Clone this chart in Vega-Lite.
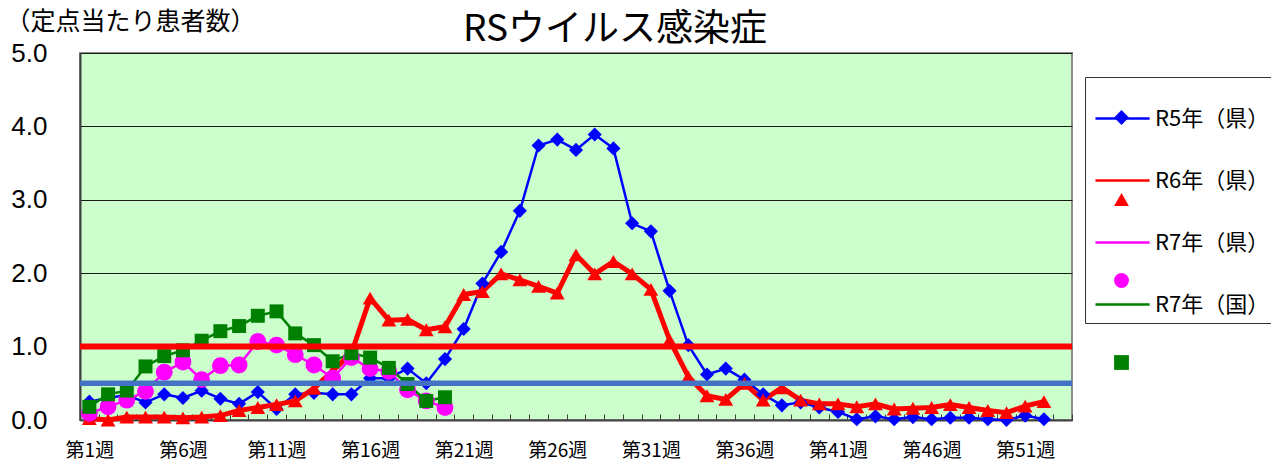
{
  "$schema": "https://vega.github.io/schema/vega-lite/v6.json",
  "width": 992,
  "height": 367,
  "autosize": {"type": "none"},
  "padding": {"left": 80, "top": 53, "right": 199, "bottom": 46},
  "background": "white",
  "config": {
    "view": {"fill": "#CCFFCC", "stroke": "#8C8C8C", "strokeWidth": 2},
    "axisX": {"labelOverlap": false}
  },
  "title": {
    "text": "RSウイルス感染症",
    "font": "Noto Sans CJK JP",
    "fontSize": 37,
    "fontWeight": "normal",
    "color": "black",
    "anchor": "middle",
    "dx": 39,
    "dy": 44
  },
  "datasets": {
    "series": [
      {"week": 1, "series": "R5年（県）", "value": 0.25},
      {"week": 2, "series": "R5年（県）", "value": 0.30},
      {"week": 3, "series": "R5年（県）", "value": 0.34},
      {"week": 4, "series": "R5年（県）", "value": 0.24},
      {"week": 5, "series": "R5年（県）", "value": 0.35},
      {"week": 6, "series": "R5年（県）", "value": 0.30},
      {"week": 7, "series": "R5年（県）", "value": 0.40},
      {"week": 8, "series": "R5年（県）", "value": 0.29},
      {"week": 9, "series": "R5年（県）", "value": 0.22},
      {"week": 10, "series": "R5年（県）", "value": 0.38},
      {"week": 11, "series": "R5年（県）", "value": 0.15},
      {"week": 12, "series": "R5年（県）", "value": 0.35},
      {"week": 13, "series": "R5年（県）", "value": 0.37},
      {"week": 14, "series": "R5年（県）", "value": 0.35},
      {"week": 15, "series": "R5年（県）", "value": 0.35},
      {"week": 16, "series": "R5年（県）", "value": 0.57},
      {"week": 17, "series": "R5年（県）", "value": 0.57},
      {"week": 18, "series": "R5年（県）", "value": 0.70},
      {"week": 19, "series": "R5年（県）", "value": 0.50},
      {"week": 20, "series": "R5年（県）", "value": 0.83},
      {"week": 21, "series": "R5年（県）", "value": 1.24},
      {"week": 22, "series": "R5年（県）", "value": 1.86},
      {"week": 23, "series": "R5年（県）", "value": 2.29},
      {"week": 24, "series": "R5年（県）", "value": 2.85},
      {"week": 25, "series": "R5年（県）", "value": 3.74},
      {"week": 26, "series": "R5年（県）", "value": 3.82},
      {"week": 27, "series": "R5年（県）", "value": 3.68},
      {"week": 28, "series": "R5年（県）", "value": 3.89},
      {"week": 29, "series": "R5年（県）", "value": 3.70},
      {"week": 30, "series": "R5年（県）", "value": 2.68},
      {"week": 31, "series": "R5年（県）", "value": 2.57},
      {"week": 32, "series": "R5年（県）", "value": 1.76},
      {"week": 33, "series": "R5年（県）", "value": 1.02},
      {"week": 34, "series": "R5年（県）", "value": 0.62},
      {"week": 35, "series": "R5年（県）", "value": 0.70},
      {"week": 36, "series": "R5年（県）", "value": 0.55},
      {"week": 37, "series": "R5年（県）", "value": 0.35},
      {"week": 38, "series": "R5年（県）", "value": 0.20},
      {"week": 39, "series": "R5年（県）", "value": 0.24},
      {"week": 40, "series": "R5年（県）", "value": 0.17},
      {"week": 41, "series": "R5年（県）", "value": 0.11},
      {"week": 42, "series": "R5年（県）", "value": 0.01},
      {"week": 43, "series": "R5年（県）", "value": 0.05},
      {"week": 44, "series": "R5年（県）", "value": 0.01},
      {"week": 45, "series": "R5年（県）", "value": 0.04},
      {"week": 46, "series": "R5年（県）", "value": 0.01},
      {"week": 47, "series": "R5年（県）", "value": 0.03},
      {"week": 48, "series": "R5年（県）", "value": 0.03},
      {"week": 49, "series": "R5年（県）", "value": 0.01},
      {"week": 50, "series": "R5年（県）", "value": 0.00},
      {"week": 51, "series": "R5年（県）", "value": 0.06},
      {"week": 52, "series": "R5年（県）", "value": 0.01},
      {"week": 1, "series": "R6年（県）", "value": 0.02},
      {"week": 2, "series": "R6年（県）", "value": 0.00},
      {"week": 3, "series": "R6年（県）", "value": 0.04},
      {"week": 4, "series": "R6年（県）", "value": 0.04},
      {"week": 5, "series": "R6年（県）", "value": 0.04},
      {"week": 6, "series": "R6年（県）", "value": 0.03},
      {"week": 7, "series": "R6年（県）", "value": 0.04},
      {"week": 8, "series": "R6年（県）", "value": 0.06},
      {"week": 9, "series": "R6年（県）", "value": 0.13},
      {"week": 10, "series": "R6年（県）", "value": 0.17},
      {"week": 11, "series": "R6年（県）", "value": 0.21},
      {"week": 12, "series": "R6年（県）", "value": 0.26},
      {"week": 13, "series": "R6年（県）", "value": 0.43},
      {"week": 14, "series": "R6年（県）", "value": 0.67},
      {"week": 15, "series": "R6年（県）", "value": 0.91},
      {"week": 16, "series": "R6年（県）", "value": 1.66},
      {"week": 17, "series": "R6年（県）", "value": 1.36},
      {"week": 18, "series": "R6年（県）", "value": 1.37},
      {"week": 19, "series": "R6年（県）", "value": 1.23},
      {"week": 20, "series": "R6年（県）", "value": 1.27},
      {"week": 21, "series": "R6年（県）", "value": 1.71},
      {"week": 22, "series": "R6年（県）", "value": 1.75},
      {"week": 23, "series": "R6年（県）", "value": 1.99},
      {"week": 24, "series": "R6年（県）", "value": 1.91},
      {"week": 25, "series": "R6年（県）", "value": 1.82},
      {"week": 26, "series": "R6年（県）", "value": 1.73},
      {"week": 27, "series": "R6年（県）", "value": 2.25},
      {"week": 28, "series": "R6年（県）", "value": 1.99},
      {"week": 29, "series": "R6年（県）", "value": 2.16},
      {"week": 30, "series": "R6年（県）", "value": 1.99},
      {"week": 31, "series": "R6年（県）", "value": 1.78},
      {"week": 32, "series": "R6年（県）", "value": 1.09},
      {"week": 33, "series": "R6年（県）", "value": 0.59},
      {"week": 34, "series": "R6年（県）", "value": 0.33},
      {"week": 35, "series": "R6年（県）", "value": 0.28},
      {"week": 36, "series": "R6年（県）", "value": 0.50},
      {"week": 37, "series": "R6年（県）", "value": 0.27},
      {"week": 38, "series": "R6年（県）", "value": 0.44},
      {"week": 39, "series": "R6年（県）", "value": 0.27},
      {"week": 40, "series": "R6年（県）", "value": 0.22},
      {"week": 41, "series": "R6年（県）", "value": 0.22},
      {"week": 42, "series": "R6年（県）", "value": 0.18},
      {"week": 43, "series": "R6年（県）", "value": 0.22},
      {"week": 44, "series": "R6年（県）", "value": 0.15},
      {"week": 45, "series": "R6年（県）", "value": 0.16},
      {"week": 46, "series": "R6年（県）", "value": 0.17},
      {"week": 47, "series": "R6年（県）", "value": 0.21},
      {"week": 48, "series": "R6年（県）", "value": 0.17},
      {"week": 49, "series": "R6年（県）", "value": 0.13},
      {"week": 50, "series": "R6年（県）", "value": 0.10},
      {"week": 51, "series": "R6年（県）", "value": 0.19},
      {"week": 52, "series": "R6年（県）", "value": 0.25},
      {"week": 1, "series": "R7年（県）", "value": 0.09},
      {"week": 2, "series": "R7年（県）", "value": 0.18},
      {"week": 3, "series": "R7年（県）", "value": 0.27},
      {"week": 4, "series": "R7年（県）", "value": 0.39},
      {"week": 5, "series": "R7年（県）", "value": 0.65},
      {"week": 6, "series": "R7年（県）", "value": 0.79},
      {"week": 7, "series": "R7年（県）", "value": 0.55},
      {"week": 8, "series": "R7年（県）", "value": 0.74},
      {"week": 9, "series": "R7年（県）", "value": 0.75},
      {"week": 10, "series": "R7年（県）", "value": 1.07},
      {"week": 11, "series": "R7年（県）", "value": 1.02},
      {"week": 12, "series": "R7年（県）", "value": 0.89},
      {"week": 13, "series": "R7年（県）", "value": 0.75},
      {"week": 14, "series": "R7年（県）", "value": 0.57},
      {"week": 15, "series": "R7年（県）", "value": 0.85},
      {"week": 16, "series": "R7年（県）", "value": 0.70},
      {"week": 17, "series": "R7年（県）", "value": 0.66},
      {"week": 18, "series": "R7年（県）", "value": 0.41},
      {"week": 19, "series": "R7年（県）", "value": 0.26},
      {"week": 20, "series": "R7年（県）", "value": 0.17},
      {"week": 1, "series": "R7年（国）", "value": 0.18},
      {"week": 2, "series": "R7年（国）", "value": 0.35},
      {"week": 3, "series": "R7年（国）", "value": 0.40},
      {"week": 4, "series": "R7年（国）", "value": 0.73},
      {"week": 5, "series": "R7年（国）", "value": 0.87},
      {"week": 6, "series": "R7年（国）", "value": 0.95},
      {"week": 7, "series": "R7年（国）", "value": 1.08},
      {"week": 8, "series": "R7年（国）", "value": 1.21},
      {"week": 9, "series": "R7年（国）", "value": 1.28},
      {"week": 10, "series": "R7年（国）", "value": 1.42},
      {"week": 11, "series": "R7年（国）", "value": 1.48},
      {"week": 12, "series": "R7年（国）", "value": 1.18},
      {"week": 13, "series": "R7年（国）", "value": 1.02},
      {"week": 14, "series": "R7年（国）", "value": 0.80},
      {"week": 15, "series": "R7年（国）", "value": 0.91},
      {"week": 16, "series": "R7年（国）", "value": 0.85},
      {"week": 17, "series": "R7年（国）", "value": 0.71},
      {"week": 18, "series": "R7年（国）", "value": 0.49},
      {"week": 19, "series": "R7年（国）", "value": 0.26},
      {"week": 20, "series": "R7年（国）", "value": 0.31}
    ]
  },
  "layer": [
    {
      "data": {"name": "series"},
      "encoding": {
        "x": {
          "field": "week",
          "type": "quantitative",
          "scale": {"domain": [0.5, 53.5], "nice": false, "zero": false},
          "axis": {
            "title": null,
            "values": [0.5, 1.5, 2.5, 3.5, 4.5, 5.5, 6.5, 7.5, 8.5, 9.5, 10.5, 11.5, 12.5, 13.5, 14.5, 15.5, 16.5, 17.5, 18.5, 19.5, 20.5, 21.5, 22.5, 23.5, 24.5, 25.5, 26.5, 27.5, 28.5, 29.5, 30.5, 31.5, 32.5, 33.5, 34.5, 35.5, 36.5, 37.5, 38.5, 39.5, 40.5, 41.5, 42.5, 43.5, 44.5, 45.5, 46.5, 47.5, 48.5, 49.5, 50.5, 51.5, 52.5, 53.5],
            "labelExpr": "(datum.value + 0.5) % 5 === 1 ? '第' + (datum.value + 0.5) + '週' : ''",
            "labelOffset": 9.36,
            "labelOverlap": false,
            "labelFlush": false,
            "labelFont": "Noto Sans CJK JP",
            "labelFontSize": 19,
            "labelColor": "black",
            "labelPadding": 27,
            "tickSize": -6,
            "tickColor": "#404040",
            "tickWidth": 1,
            "grid": false,
            "domain": true,
            "domainColor": "#404040",
            "domainWidth": 2
          }
        },
        "y": {
          "field": "value",
          "type": "quantitative",
          "scale": {"domain": [0, 5], "nice": false},
          "axis": {
            "title": "（定点当たり患者数）",
            "titleAngle": 0,
            "titleAlign": "left",
            "titleBaseline": "alphabetic",
            "titleX": -75,
            "titleY": -24,
            "titleFont": "Noto Sans CJK JP",
            "titleFontSize": 25,
            "titleFontWeight": "normal",
            "titleColor": "black",
            "values": [0, 1, 2, 3, 4, 5],
            "format": ".1f",
            "labelFont": "Liberation Sans",
            "labelFontSize": 26,
            "labelColor": "black",
            "labelPadding": 33,
            "ticks": false,
            "domain": true,
            "domainColor": "#404040",
            "domainWidth": 2,
            "grid": true,
            "gridColor": "#1a1a1a",
            "gridWidth": 1
          }
        }
      },
      "layer": [
        {
          "mark": {"type": "line", "strokeJoin": "round"},
          "encoding": {
            "stroke": {
              "field": "series",
              "type": "nominal",
              "scale": {"domain": ["R5年（県）", "R6年（県）", "R7年（県）", "R7年（国）", "-"], "range": ["#0000FF", "#FF0000", "#FF00FF", "#008000", "#FFFFFF"]},
              "legend": {
                "title": null,
                "orient": "none",
                "legendX": 1005,
                "legendY": 24,
                "values": ["R5年（県）", "R6年（県）", "R7年（県）", "R7年（国）"],
                "padding": 7,
                "rowPadding": 16,
                "strokeColor": "#333333",
                "symbolType": "M-0.94,0H0.7",
                "symbolSize": 4356,
                "symbolStrokeWidth": 2.5,
                "labelFont": "Noto Sans CJK JP",
                "labelFontSize": 22,
                "labelColor": "black",
                "labelOffset": -6,
                "labelLimit": 0
              }
            },
            "strokeWidth": {
              "field": "series",
              "type": "nominal",
              "scale": {"type": "ordinal", "domain": ["R7年（国）", "R7年（県）", "R6年（県）", "R5年（県）"], "range": [2.5, 2.5, 5, 2.5]},
              "legend": null
            },
            "order": {"field": "week", "type": "quantitative"}
          }
        },
        {
          "mark": {"type": "point", "filled": true, "opacity": 1},
          "encoding": {
            "color": {
              "field": "series",
              "type": "nominal",
              "scale": {"domain": ["R5年（県）", "R6年（県）", "R7年（県）", "R7年（国）"], "range": ["#0000FF", "#FF0000", "#FF00FF", "#008000"]},
              "legend": {
                "title": null,
                "orient": "none",
                "legendX": 1034,
                "legendY": 57,
                "padding": 0,
                "rowPadding": 67,
                "symbolSize": 220,
                "symbolStrokeWidth": 0,
                "labelExpr": "''",
                "labelFontSize": 1,
                "labelLimit": 0
              }
            },
            "shape": {
              "field": "series",
              "type": "nominal",
              "scale": {"domain": ["R5年（県）", "R6年（県）", "R7年（県）", "R7年（国）"], "range": ["diamond", "triangle-up", "circle", "square"]}
            },
            "size": {
              "field": "series",
              "type": "nominal",
              "scale": {"type": "ordinal", "domain": ["R6年（県）", "R5年（県）", "R7年（国）", "R7年（県）"], "range": [220, 200, 195, 285]},
              "legend": null
            }
          }
        }
      ]
    },
    {
      "data": {"values": [{}]},
      "mark": {"type": "rule", "color": "#FF0000", "strokeWidth": 6},
      "encoding": {"y": {"datum": 1}}
    },
    {
      "data": {"values": [{}]},
      "mark": {"type": "rule", "color": "#4472C4", "strokeWidth": 5.5},
      "encoding": {"y": {"datum": 0.5}}
    }
  ]
}
